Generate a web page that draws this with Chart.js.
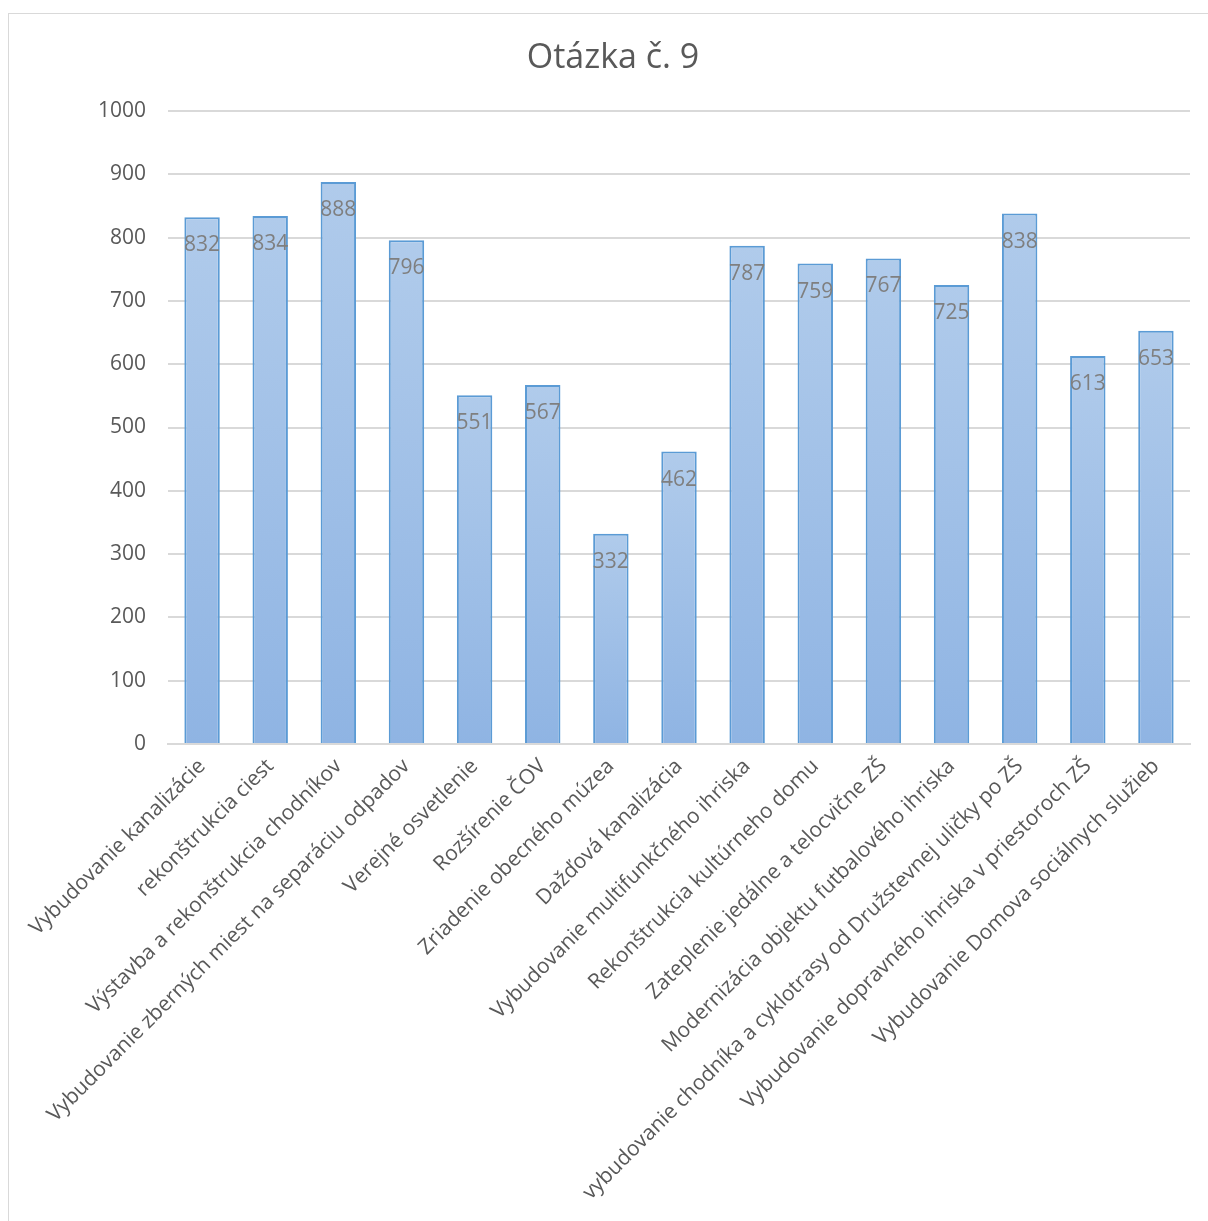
<!DOCTYPE html>
<html>
<head>
<meta charset="utf-8">
<script src="https://cdn.jsdelivr.net/npm/chart.js@4.4.0/dist/chart.umd.min.js"></script>
<style>
    body { margin: 0; background: #fff; overflow: hidden; }
    #frame {
        position: absolute; left: 8px; top: 13px; width: 1210px; height: 1220px;
        border: 1px solid #d9d9d9; box-sizing: border-box;
    }
    #wrap { position: absolute; left: 9px; top: 14px; width: 1199px; height: 1207px; }
</style>
</head>
<body>
<div id="frame"></div>
<div id="wrap"><canvas id="questionChart"></canvas></div>
<script>
// Otázka č. 9 - počet hlasov
const chartTitle = 'Otázka č. 9';
const categories = [
    'Vybudovanie kanalizácie',
    'rekonštrukcia ciest',
    'Výstavba a rekonštrukcia chodníkov',
    'Vybudovanie zberných miest na separáciu odpadov',
    'Verejné osvetlenie',
    'Rozšírenie ČOV',
    'Zriadenie obecného múzea',
    'Dažďová kanalizácia',
    'Vybudovanie multifunkčného ihriska',
    'Rekonštrukcia kultúrneho domu',
    'Zateplenie jedálne a telocvične ZŠ',
    'Modernizácia objektu futbalového ihriska',
    'vybudovanie chodníka a cyklotrasy od Družstevnej uličky po ZŠ',
    'Vybudovanie dopravného ihriska v priestoroch ZŠ',
    'Vybudovanie Domova sociálnych služieb'
];
const votes = [832, 834, 888, 796, 551, 567, 332, 462, 787, 759, 767, 725, 838, 613, 653];
const yTicks = [0, 100, 200, 300, 400, 500, 600, 700, 800, 900, 1000];

const FONT = "'Open Sans', 'Noto Sans', sans-serif";

// gradient per bar: light on top, darker at the base
function barGradient(context) {
    const chart = context.chart;
    const area = chart.chartArea;
    if (!area) return '#9fbfe6';
    const top = chart.scales.y.getPixelForValue(context.raw);
    const g = chart.ctx.createLinearGradient(0, top, 0, area.bottom);
    g.addColorStop(0, '#b0cbeb');
    g.addColorStop(1, '#8fb4e3');
    return g;
}

// title centred on the whole frame, value labels inside the top of each bar
const textLayer = {
    id: 'textLayer',
    afterDatasetsDraw(chart) {
        const ctx = chart.ctx;
        const meta = chart.getDatasetMeta(0);
        ctx.save();
        ctx.textAlign = 'center';
        ctx.textBaseline = 'middle';

        ctx.font = '34px ' + FONT;
        ctx.fillStyle = '#595959';
        ctx.fillText(chartTitle, 604, 44);

        ctx.font = '21px ' + FONT;
        ctx.fillStyle = '#7f7f7f';
        meta.data.forEach((bar, i) => {
            ctx.fillText(String(votes[i]), bar.x, bar.y + 28);
        });
        ctx.restore();
    }
};

new Chart(document.getElementById('questionChart'), {
    type: 'bar',
    data: {
        labels: categories,
        datasets: [{
            data: votes,
            backgroundColor: barGradient,
            borderColor: '#5b9bd5',
            borderWidth: 2,
            borderSkipped: 'bottom',
            categoryPercentage: 1,
            barPercentage: 0.52
        }]
    },
    options: {
        responsive: true,
        maintainAspectRatio: false,
        animation: false,
        layout: { padding: { left: 0, right: 18, top: 97, bottom: 0 } },
        plugins: {
            legend: { display: false },
            tooltip: { enabled: false },
            title: { display: false }
        },
        scales: {
            x: {
                grid: { display: false },
                border: { color: '#d9d9d9', width: 2 },
                ticks: {
                    color: '#595959',
                    font: { family: FONT, size: 21 },
                    minRotation: 45,
                    maxRotation: 45,
                    autoSkip: false,
                    padding: 2
                },
                afterFit(scale) { scale.height = 477; }
            },
            y: {
                min: 0,
                max: 1000,
                afterBuildTicks(scale) { scale.ticks = yTicks.map(v => ({ value: v })); },
                grid: { color: '#d9d9d9', lineWidth: 2, drawTicks: false },
                border: { display: false },
                ticks: {
                    color: '#595959',
                    font: { family: FONT, size: 21 },
                    padding: 22,
                    callback: value => String(value)
                },
                afterFit(scale) { scale.width = 159; }
            }
        }
    },
    plugins: [textLayer]
});
</script>
</body>
</html>
